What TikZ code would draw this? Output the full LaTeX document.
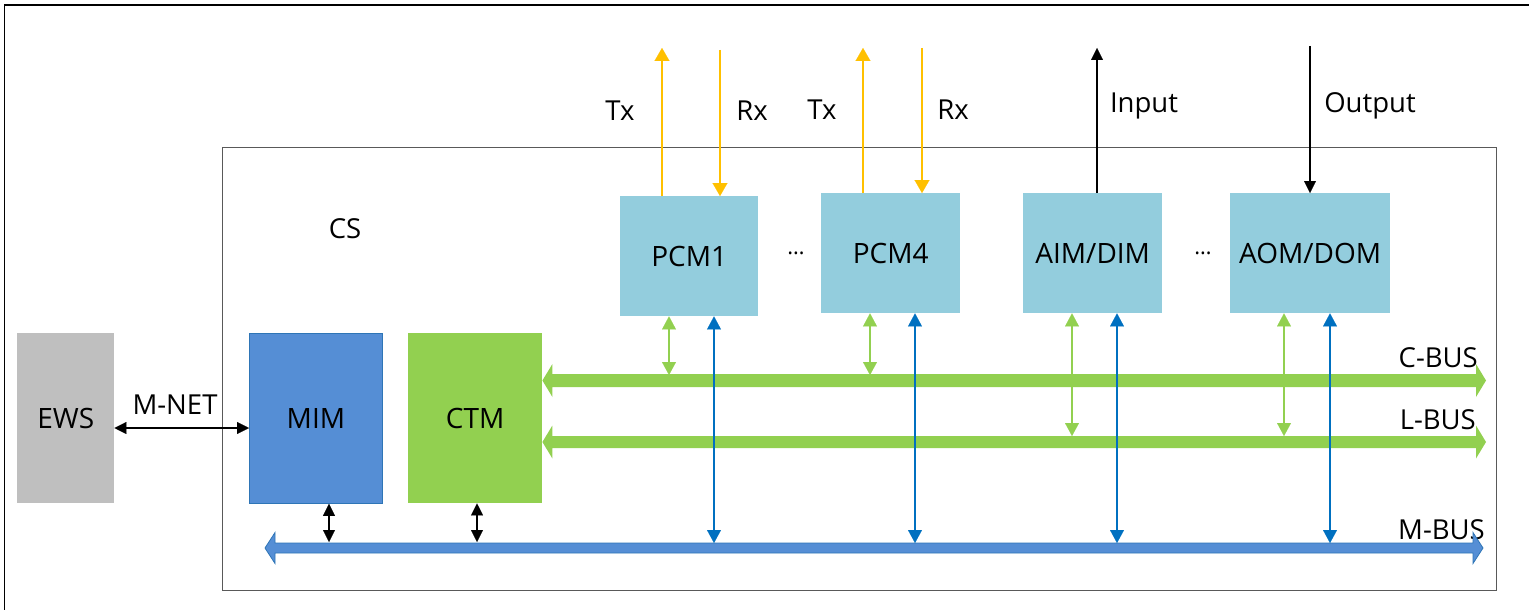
\documentclass[tikz,border=0pt]{standalone}
\usepackage{fontspec}
\setmainfont{Open Sans}
\usetikzlibrary{arrows.meta,calc}
\definecolor{ylw}{HTML}{FFC000}
\definecolor{grn}{HTML}{92D050}
\definecolor{blu}{HTML}{0070C0}
\definecolor{mimblue}{HTML}{558ED5}
\definecolor{mimedge}{HTML}{2E75B6}
\definecolor{ltblue}{HTML}{93CDDD}
\definecolor{ewsgray}{HTML}{BFBFBF}
\tikzset{
  box/.style={inner sep=0pt, anchor=north west, font=\fontsize{28}{28}\selectfont, text height=20pt, text depth=0pt},
  lab/.style={inner sep=0pt, font=\fontsize{27.5}{27.5}\selectfont, text height=19.6pt, text depth=0pt},
  yarr/.style={draw=ylw, line width=2.4pt, -{Triangle[width=15pt,length=13pt,line width=0.1pt]}},
  karr/.style={draw=black, line width=2pt, -{Triangle[width=12pt,length=12pt,line width=0.1pt]}},
  kdbl/.style={draw=black, line width=2pt, {Triangle[width=12pt,length=12pt,line width=0.1pt]}-{Triangle[width=12pt,length=12pt,line width=0.1pt]}},
  gdbl/.style={draw=grn, line width=1.8pt, {Triangle[width=14pt,length=13pt,line width=0.1pt]}-{Triangle[width=14pt,length=13pt,line width=0.1pt]}},
  bdbl/.style={draw=blu, line width=2.4pt, {Triangle[width=14pt,length=13pt,line width=0.1pt]}-{Triangle[width=14pt,length=13pt,line width=0.1pt]}},
  gbus/.style={fill=grn},
  mbus/.style={fill=mimblue, draw=mimedge, line width=0.8pt, line join=miter},
}
% double-headed bus arrow: #1 style, #2 left tip, #3 right tip, #4 half thickness, #5 half head, #6 head length
\newcommand{\mybusarrow}[6]{%
  \path[#1] (#2) -- ($(#2)+(#6,-#5)$) -- ($(#2)+(#6,-#4)$) -- ($(#3)+(-#6,-#4)$) -- ($(#3)+(-#6,-#5)$) -- (#3)
    -- ($(#3)+(-#6,#5)$) -- ($(#3)+(-#6,#4)$) -- ($(#2)+(#6,#4)$) -- ($(#2)+(#6,#5)$) -- cycle;}
\begin{document}
\begin{tikzpicture}[x=1pt,y=-1pt]
\useasboundingbox (0,0) rectangle (1529,610);
\begin{scope}
\clip (0,0) rectangle (1529,610);
\draw[black, line width=1.3pt] (4.5,5) rectangle (1545,625);
\end{scope}
\draw[black!65, line width=1pt] (222,147) rectangle (1496,590);

% boxes
\node[box, fill=ewsgray, minimum width=97pt, minimum height=170pt] (EWS) at (17,333) {EWS};
\node[box, fill=mimblue, draw=mimedge, line width=0.8pt, minimum width=133pt, minimum height=170pt] (MIM) at (249,333) {MIM};
\node[box, fill=grn, minimum width=134pt, minimum height=170pt] (CTM) at (408,333) {CTM};
\node[box, fill=ltblue, minimum width=138pt, minimum height=120pt] (PCM1) at (620,196) {PCM1};
\node[box, fill=ltblue, minimum width=139pt, minimum height=120pt] (PCM4) at (821,193) {PCM4};
\node[box, fill=ltblue, minimum width=139pt, minimum height=120pt] (AIM) at (1023,193) {AIM/DIM};
\node[box, fill=ltblue, minimum width=160pt, minimum height=120pt] (AOM) at (1230,193) {AOM/DOM};

% labels
\node[lab] (cs) at (345,229) {CS};
\node[lab] (dots1) at (796,245) {\fontsize{22}{22}\selectfont …};
\node[lab] (dots2) at (1203,245) {\fontsize{22}{22}\selectfont …};
\node[lab] (tx1) at (620,110.5) {Tx};
\node[lab] (rx1) at (752,111) {Rx};
\node[lab] (tx4) at (822,110) {Tx};
\node[lab] (rx4) at (953,110) {Rx};
\node[lab] (inp) at (1144,103) {Input};
\node[lab] (outp) at (1370,103) {Output};
\node[lab] (mnet) at (175,405) {M-NET};
\node[lab, anchor=east] (cbl) at (1478,358) {C-BUS};
\node[lab, anchor=east] (lbl) at (1476,420) {L-BUS};
\node[lab, anchor=east] (mbl) at (1485,530) {M-BUS};

% bus end coordinates
\coordinate (cbE) at (1486,380.5);
\coordinate (lbE) at (1486,442);
\coordinate (cbW) at (CTM.east |- cbE);
\coordinate (lbW) at (CTM.east |- lbE);
\coordinate (mbW) at (265,548);
\coordinate (mbE) at (1483,548);

% buses
\mybusarrow{gbus}{cbW}{cbE}{6.5}{16.5}{10}
\mybusarrow{gbus}{lbW}{lbE}{6}{16.5}{10}
\mybusarrow{mbus}{mbW}{mbE}{5}{15.5}{10}

% top arrows
\coordinate (t1) at (662,48);
\coordinate (r1) at (720,50);
\coordinate (t4) at (863,48);
\coordinate (r4) at (922,48);
\coordinate (in) at (1097,48);
\coordinate (out) at (1310,46);
\draw[yarr] (t1 |- PCM1.north) -- (t1);
\draw[yarr] (r1) -- (r1 |- PCM1.north);
\draw[yarr] (t4 |- PCM4.north) -- (t4);
\draw[yarr] (r4) -- (r4 |- PCM4.north);
\draw[karr] (in |- AIM.north) -- (in);
\draw[karr] (out) -- (out |- AOM.north);

% green module-bus arrows
\coordinate (g1) at (669,375);
\coordinate (g4) at (870,375);
\coordinate (ga) at (1072,436);
\coordinate (go) at (1284,436);
\draw[gdbl] (g1 |- PCM1.south) -- (g1);
\draw[gdbl] (g4 |- PCM4.south) -- (g4);
\draw[gdbl] (ga |- AIM.south) -- (ga);
\draw[gdbl] (go |- AOM.south) -- (go);

% blue module-M-BUS arrows
\coordinate (b1) at (714,543);
\coordinate (b4) at (915,543);
\coordinate (ba) at (1117,543);
\coordinate (bo) at (1330,543);
\draw[bdbl] (b1 |- PCM1.south) -- (b1);
\draw[bdbl] (b4 |- PCM4.south) -- (b4);
\draw[bdbl] (ba |- AIM.south) -- (ba);
\draw[bdbl] (bo |- AOM.south) -- (bo);

% black arrows
\coordinate (km) at (329,542);
\coordinate (kc) at (477,542);
\draw[kdbl] (km |- MIM.south) -- (km);
\draw[kdbl] (kc |- CTM.south) -- (kc);
\draw[kdbl] (EWS.east |- 0,428) -- (MIM.west |- 0,428);
\end{tikzpicture}
\end{document}
